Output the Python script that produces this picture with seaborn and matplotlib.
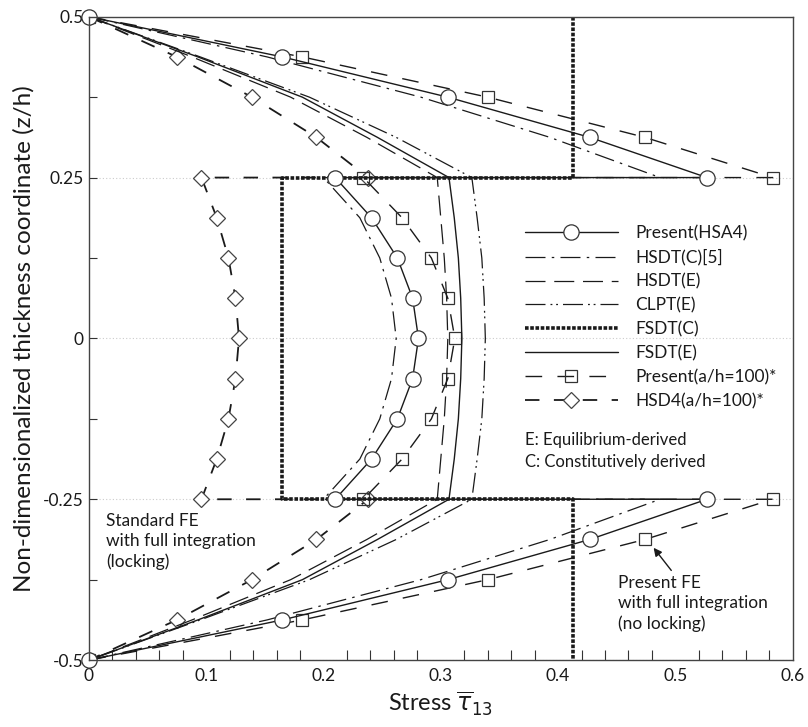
import matplotlib.pyplot as plt
import seaborn as sns
from matplotlib.ticker import FixedLocator, FixedFormatter, MultipleLocator

# thickness coordinate z/h; the interfaces appear twice where a series jumps
z_jump = [0.5, 0.4375, 0.375, 0.3125, 0.25, 0.25, 0.1875, 0.125, 0.0625, 0.0,
          -0.0625, -0.125, -0.1875, -0.25, -0.25, -0.3125, -0.375, -0.4375, -0.5]
z_cont = [0.5, 0.4375, 0.375, 0.3125, 0.25, 0.1875, 0.125, 0.0625, 0.0,
          -0.0625, -0.125, -0.1875, -0.25, -0.3125, -0.375, -0.4375, -0.5]

# stress tau13 values
present_hsa4 = [0.0, 0.165, 0.306, 0.427, 0.527, 0.21, 0.241, 0.263, 0.276, 0.281,
                0.276, 0.263, 0.241, 0.21, 0.527, 0.427, 0.306, 0.165, 0.0]
hsdt_c = [0.0, 0.152, 0.283, 0.393, 0.487, 0.20, 0.231, 0.248, 0.258, 0.262,
          0.258, 0.248, 0.231, 0.20, 0.487, 0.393, 0.283, 0.152, 0.0]
present_a100 = [0.0, 0.182, 0.34, 0.474, 0.583, 0.234, 0.267, 0.292, 0.306, 0.312,
                0.306, 0.292, 0.267, 0.234, 0.583, 0.474, 0.34, 0.182, 0.0]
hsd4_a100 = [0.0, 0.075, 0.139, 0.194, 0.238, 0.096, 0.109, 0.119, 0.125, 0.128,
             0.125, 0.119, 0.109, 0.096, 0.238, 0.194, 0.139, 0.075, 0.0]
hsdt_e = [0.0, 0.088, 0.172, 0.237, 0.297, 0.300, 0.303, 0.305, 0.306,
          0.305, 0.303, 0.300, 0.297, 0.237, 0.172, 0.088, 0.0]
fsdt_e = [0.0, 0.093, 0.182, 0.246, 0.307, 0.3115, 0.315, 0.317, 0.318,
          0.317, 0.315, 0.3115, 0.307, 0.246, 0.182, 0.093, 0.0]
clpt_e = [0.0, 0.095, 0.188, 0.262, 0.3265, 0.331, 0.335, 0.337, 0.338,
          0.337, 0.335, 0.331, 0.3265, 0.262, 0.188, 0.095, 0.0]
fsdt_c_x = [0.413, 0.413, 0.165, 0.165, 0.413, 0.413]
fsdt_c_z = [0.5, 0.25, 0.25, -0.25, -0.25, -0.5]

legend_labels = ["Present(HSA4)", "HSDT(C)[5]", "HSDT(E)", "CLPT(E)",
                 "FSDT(C)", "FSDT(E)", "Present(a/h=100)*", "HSD4(a/h=100)*"]
x_ticks = [0.0, 0.1, 0.2, 0.3, 0.4, 0.5, 0.6]
x_tick_labels = ["0", "0.1", "0.2", "0.3", "0.4", "0.5", "0.6"]
y_ticks = [-0.5, -0.25, 0.0, 0.25, 0.5]
y_tick_labels = ["-0.5", "-0.25", "0", "0.25", "0.5"]

INK = "#1a1a1a"


def draw(ax, x, z, **style):
    sns.lineplot(x=x, y=z, sort=False, estimator=None, ax=ax, color=INK, **style)
    return ax.lines[-1]


sns.set_theme(style="white")
plt.rcParams["font.family"] = ["Lato", "DejaVu Sans"]
plt.rcParams["mathtext.fontset"] = "dejavusans"

fig = plt.figure(figsize=(8.08, 7.27), dpi=100)
ax = fig.add_axes([0.110, 0.092, 0.871, 0.885])

h_hsd4 = draw(ax, hsd4_a100, z_jump, lw=1.3, linestyle=(0, (8, 8)),
              marker="D", markersize=8.5, markerfacecolor="white",
              markeredgecolor="#444444", markeredgewidth=0.9)
h_a100 = draw(ax, present_a100, z_jump, lw=1.0, linestyle=(0, (12, 11)),
              marker="s", markersize=8, markerfacecolor="none",
              markeredgecolor="#333333", markeredgewidth=0.9)
h_hsdt_e = draw(ax, hsdt_e, z_cont, lw=0.9, linestyle=(0, (16, 7)))
h_clpt = draw(ax, clpt_e, z_cont, lw=0.9, linestyle=(0, (16, 4, 1.5, 3, 1.5, 4)))
h_hsdt_c = draw(ax, hsdt_c, z_jump, lw=0.9, linestyle=(0, (16, 5, 2, 5)))
h_fsdt_e = draw(ax, fsdt_e, z_cont, lw=1.0, linestyle="-")
h_fsdt_c = draw(ax, fsdt_c_x, fsdt_c_z, lw=2.6, linestyle=(0, (1.0, 0.45)))
h_present = draw(ax, present_hsa4, z_jump, lw=1.0, linestyle="-",
                 marker="o", markersize=11, markerfacecolor="white",
                 markeredgecolor="#333333", markeredgewidth=0.9, clip_on=False)

ax.set_xlim(0, 0.6)
ax.set_ylim(-0.5, 0.5)
ax.xaxis.set_major_locator(FixedLocator(x_ticks))
ax.xaxis.set_major_formatter(FixedFormatter(x_tick_labels))
ax.xaxis.set_minor_locator(MultipleLocator(0.02))
ax.yaxis.set_major_locator(FixedLocator(y_ticks))
ax.yaxis.set_major_formatter(FixedFormatter(y_tick_labels))
ax.yaxis.set_minor_locator(MultipleLocator(0.125))
ax.tick_params(axis="x", which="major", direction="in", length=12, width=0.9,
               color="#333333", labelsize=12.5, pad=6, labelcolor=INK)
ax.tick_params(axis="x", which="minor", direction="in", length=7, width=0.8,
               color="#333333", bottom=True)
ax.tick_params(axis="y", which="both", direction="in", length=6, width=0.8,
               color="#333333", labelsize=12.5, pad=4, labelcolor=INK, left=True)
ax.grid(axis="y", which="major", color="#cccccc", linestyle=(0, (1, 2)), lw=0.8)
ax.set_axisbelow(True)
for spine in ax.spines.values():
    spine.set_color("#444444")
    spine.set_linewidth(1.0)

ax.set_xlabel(r"Stress $\overline{\tau}_{13}$", fontsize=17, color=INK, labelpad=4)
ax.set_ylabel("Non-dimensionalized thickness coordinate (z/h)", fontsize=17.5,
              color=INK, labelpad=6)

handles = [h_present, h_hsdt_c, h_hsdt_e, h_clpt, h_fsdt_c, h_fsdt_e, h_a100, h_hsd4]
leg = ax.legend(handles, legend_labels, loc="upper left", bbox_to_anchor=(0.619, 0.676),
                frameon=False, fontsize=12.5, handlelength=5.4, handletextpad=1.0,
                labelspacing=0.45, borderpad=0, borderaxespad=0, numpoints=1)
for txt in leg.get_texts():
    txt.set_color(INK)

ax.text(0.372, -0.158, "E: Equilibrium-derived", fontsize=12, va="center", color=INK)
ax.text(0.372, -0.192, "C: Constitutively derived", fontsize=12, va="center", color=INK)

ax.text(0.0145, -0.272, "Standard FE\nwith full integration\n(locking)",
        fontsize=12.5, va="top", ha="left", linespacing=1.3, color=INK)
ax.text(0.451, -0.368, "Present FE\nwith full integration\n(no locking)",
        fontsize=12.5, va="top", ha="left", linespacing=1.3, color=INK)
ax.annotate("", xy=(0.480, -0.322), xytext=(0.498, -0.364),
            arrowprops=dict(arrowstyle="-|>", color=INK, lw=1.0, mutation_scale=12))

fig.savefig("out.png", dpi=100)
